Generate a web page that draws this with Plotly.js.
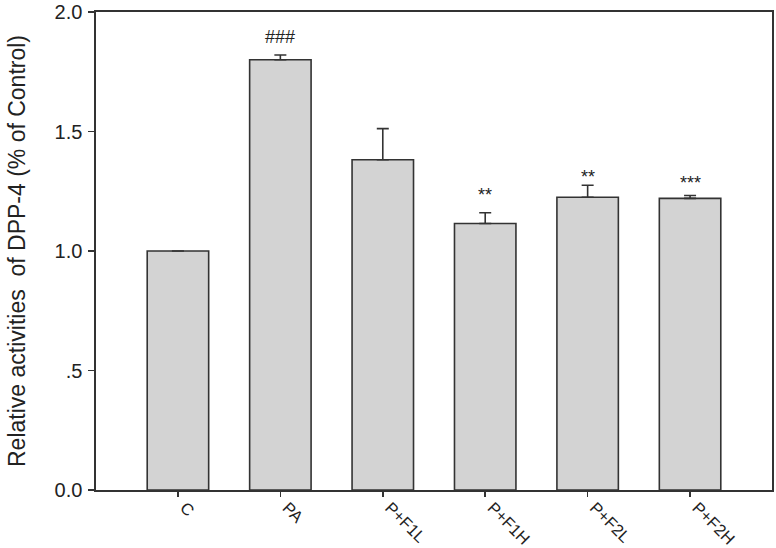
<!DOCTYPE html>
<html>
<head>
<meta charset="utf-8">
<script src="https://cdn.plot.ly/plotly-3.0.1.min.js"></script>
<style>html,body{margin:0;padding:0;background:#fff;}#chart{width:776px;height:548px;}</style>
</head>
<body>
<div id="chart"></div>
<script>
const categories = ["C", "PA", "P+F1L", "P+F1H", "P+F2L", "P+F2H"];
const values = [1.00, 1.80, 1.382, 1.115, 1.225, 1.22];
const errors = [0, 0.02, 0.13, 0.045, 0.05, 0.012];
const marks = ["", "###", "", "**", "**", "***"];
const markY = [null, 1.896, null, 1.235, 1.31, 1.285];
const yTickVals = [0, 0.5, 1.0, 1.5, 2.0];
const yTickText = ["0.0", ".5", "1.0", "1.5", "2.0"];

const FONT = "Liberation Sans, Arial, sans-serif";

const trace = {
  type: "bar",
  x: categories,
  y: values,
  width: 0.6,
  marker: {color: "#d3d3d3", line: {color: "#333333", width: 1.6}},
  error_y: {type: "data", array: errors, arrayminus: errors.map(() => 0), symmetric: false,
            color: "#333333", thickness: 1.6, width: 6},
  hoverinfo: "skip"
};

// invisible trace on the overlay axis that carries the x tick marks
const tickTrace = {
  type: "bar", x: categories, y: values.map(() => 0), xaxis: "x2", yaxis: "y",
  marker: {color: "rgba(0,0,0,0)"}, hoverinfo: "skip", showlegend: false
};

const annotations = [];
categories.forEach((c, i) => {
  if (marks[i]) {
    annotations.push({x: c, y: markY[i], xref: "x", yref: "y", text: marks[i],
      showarrow: false, yanchor: "middle",
      font: {family: FONT, size: 18, color: "#222"}});
  }
});

const layout = {
  width: 776, height: 548,
  margin: {l: 96, r: 4, t: 12, b: 58},
  paper_bgcolor: "#fff", plot_bgcolor: "#fff",
  showlegend: false,
  xaxis: {
    type: "category", range: [-0.8, 5.8],
    showline: true, linecolor: "#333", linewidth: 1.6, mirror: true,
    ticks: "", ticklabelstandoff: 0, ticklabelshift: 7,
    tickangle: 45,
    tickfont: {family: FONT, size: 16.5, color: "#222"},
    automargin: false,
    showgrid: false, zeroline: false, fixedrange: true
  },
  xaxis2: {
    type: "category", range: [-0.8, 5.8], overlaying: "x", side: "bottom", anchor: "y",
    showline: false, showticklabels: false,
    ticks: "outside", ticklen: 6, tickcolor: "#333", tickwidth: 1.6,
    automargin: false, showgrid: false, zeroline: false, fixedrange: true
  },
  yaxis: {
    range: [0, 2],
    tickvals: yTickVals, ticktext: yTickText,
    showline: true, linecolor: "#333", linewidth: 1.6, mirror: true,
    ticks: "outside", ticklen: 6, tickcolor: "#333", tickwidth: 1.6,
    ticklabelstandoff: 2, ticklabeloverflow: "allow",
    tickfont: {family: FONT, size: 20, color: "#222"},
    title: {text: "Relative activities  of DPP-4 (% of Control)", standoff: 22,
            font: {family: FONT, size: 23, color: "#222"}},
    automargin: false,
    showgrid: false, zeroline: false, fixedrange: true
  },
  annotations: annotations
};

Plotly.newPlot("chart", [trace, tickTrace], layout, {displayModeBar: false, staticPlot: true});
</script>
</body>
</html>
